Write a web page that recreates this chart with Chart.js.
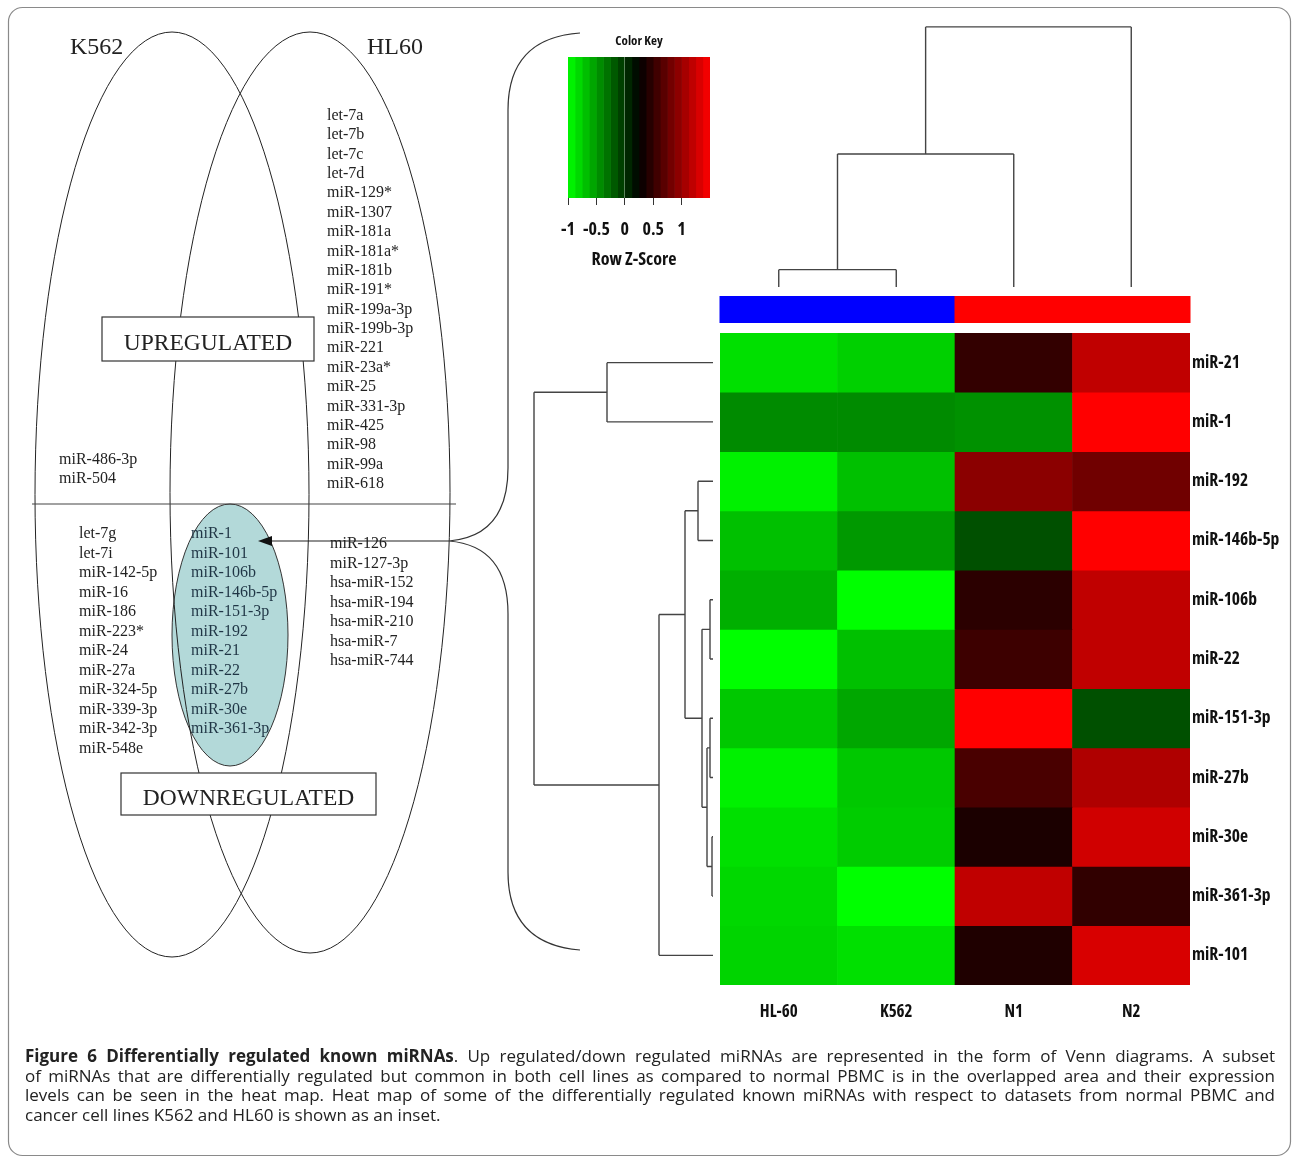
<!DOCTYPE html>
<html>
<head>
<meta charset="utf-8">
<script src="https://cdn.jsdelivr.net/npm/chart.js@4.4.1/dist/chart.umd.min.js"></script>
<style>
  body { margin: 0; background: #fff; }
  #wrap { position: relative; width: 1292px; height: 1160px; overflow: hidden; background: #fff; }
  #heat { position: absolute; left: 0; top: 0; }
  #key { position: absolute; left: 540px; top: 10px; }
  #venn { position: absolute; left: 0; top: 0; }
  .cap { position: absolute; left: 25px; width: 1250px; font: 17px 'Open Sans', sans-serif; color: #222;
         line-height: 19.7px; white-space: nowrap; text-align: justify; text-align-last: justify; }
  .cap.last { text-align: left; text-align-last: left; }
  .lab { position: absolute; font: bold 17px 'Open Sans', sans-serif; font-stretch: condensed; color: #111;
         line-height: 1; white-space: nowrap; }
</style>
</head>
<body>
<div id="wrap">
  <canvas id="heat" width="1292" height="1160"></canvas>
  <canvas id="key" width="200" height="300"></canvas>
  <svg id="venn" width="1292" height="1160" viewBox="0 0 1292 1160" xmlns="http://www.w3.org/2000/svg"></svg>
  <div class="cap" style="top:1046px"><b>Figure 6 Differentially regulated known miRNAs</b>. Up regulated/down regulated miRNAs are represented in the form of Venn diagrams. A subset</div>
  <div class="cap" style="top:1066px">of miRNAs that are differentially regulated but common in both cell lines as compared to normal PBMC is in the overlapped area and their expression</div>
  <div class="cap" style="top:1085px">levels can be seen in the heat map. Heat map of some of the differentially regulated known miRNAs with respect to datasets from normal PBMC and</div>
  <div class="cap last" style="top:1105px">cancer cell lines K562 and HL60 is shown as an inset.</div>
</div>
<script>
// heat map data (row z-scores)
const colNames = ['HL-60', 'K562', 'N1', 'N2'];
const colGroup = ['cancer', 'cancer', 'normal', 'normal'];
const rowNames = ['miR-21', 'miR-1', 'miR-192', 'miR-146b-5p', 'miR-106b', 'miR-22',
                  'miR-151-3p', 'miR-27b', 'miR-30e', 'miR-361-3p', 'miR-101'];
const zHL60 = [-0.85, -0.43, -0.93, -0.69, -0.61, -1.00, -0.73, -0.93, -0.85, -0.81, -0.79];
const zK562 = [-0.77, -0.43, -0.69, -0.50, -1.00, -0.69, -0.57, -0.73, -0.75, -1.00, -0.85];
const zN1   = [ 0.50, -0.46,  0.93, -0.14,  0.46,  0.55,  1.50,  0.61,  0.38,  1.19,  0.40];
const zN2   = [ 1.19,  1.50,  0.80,  1.50,  1.19,  1.19, -0.14,  1.11,  1.27,  0.49,  1.31];

// dendrograms, hclust style: negative = leaf (1-based), positive = earlier merge
const rowMerges = [[-9, -10, 0.1], [-5, -6, 0.3], [-7, -8, 0.3], [3, 1, 0.6], [2, 4, 1.1],
                   [-3, -4, 1.5], [6, 5, 2.8], [7, -11, 5.4], [-1, -2, 10.6], [9, 8, 17.9]];
const colMerges = [[-1, -2, 0.6], [1, -3, 4.6], [2, -4, 9.0]];

// colour key
const keyBreaks = [-1, -0.875, -0.75, -0.625, -0.5, -0.375, -0.25, -0.125, 0, 0.125, 0.25,
                   0.375, 0.5, 0.625, 0.75, 0.875, 1, 1.125, 1.25, 1.375, 1.5];
const keyTicks = [-1, -0.5, 0, 0.5, 1];

// venn lists
const hl60Up = ['let-7a', 'let-7b', 'let-7c', 'let-7d', 'miR-129*', 'miR-1307', 'miR-181a', 'miR-181a*',
  'miR-181b', 'miR-191*', 'miR-199a-3p', 'miR-199b-3p', 'miR-221', 'miR-23a*', 'miR-25', 'miR-331-3p',
  'miR-425', 'miR-98', 'miR-99a', 'miR-618'];
const k562Up = ['miR-486-3p', 'miR-504'];
const k562Down = ['let-7g', 'let-7i', 'miR-142-5p', 'miR-16', 'miR-186', 'miR-223*', 'miR-24', 'miR-27a',
  'miR-324-5p', 'miR-339-3p', 'miR-342-3p', 'miR-548e'];
const sharedDown = ['miR-1', 'miR-101', 'miR-106b', 'miR-146b-5p', 'miR-151-3p', 'miR-192', 'miR-21',
  'miR-22', 'miR-27b', 'miR-30e', 'miR-361-3p'];
const hl60Down = ['miR-126', 'miR-127-3p', 'hsa-miR-152', 'hsa-miR-194', 'hsa-miR-210', 'hsa-miR-7', 'hsa-miR-744'];

const zCols = [zHL60, zK562, zN1, zN2];
const groupColor = { cancer: '#0000ff', normal: '#ff0000' };
const zMin = -1, zMax = 1.5, zMid = 0.25;
const wrap = document.getElementById('wrap');

function zColor(z) {
  if (z < zMid) {
    const g = Math.round(255 * Math.min(1, (zMid - z) / (zMid - zMin)));
    return `rgb(0,${g},0)`;
  }
  const r = Math.round(255 * Math.min(1, (z - zMid) / (zMax - zMid)));
  return `rgb(${r},0,0)`;
}

// label placed in the page at a pixel from a chart scale; anchor 'left' or 'center'
function label(text, x, y, anchor, size) {
  const d = document.createElement('div');
  d.className = 'lab';
  d.textContent = text;
  if (size) d.style.fontSize = size + 'px';
  d.style.left = x + 'px';
  d.style.top = y + 'px';
  d.style.transform = anchor === 'left' ? 'translateY(-50%)' : 'translate(-50%,-50%)';
  wrap.appendChild(d);
}

function treeNodes(merges, leafPos) {
  const nodes = [];
  const get = k => k < 0 ? { p: leafPos(-k - 1), h: 0 } : nodes[k - 1];
  merges.forEach(([a, b, h]) => {
    const A = get(a), B = get(b);
    nodes.push({ p: (A.p + B.p) / 2, h: h, A: A, B: B });
  });
  return nodes;
}

const dendroPlugin = {
  id: 'dendro',
  afterDatasetsDraw(chart) {
    const ctx = chart.ctx;
    const xs = chart.scales.x, ys = chart.scales.y;
    const area = chart.chartArea;
    const colW = xs.getPixelForValue(1) - xs.getPixelForValue(0);
    ctx.save();
    // side colour bar
    colGroup.forEach((g, j) => {
      ctx.fillStyle = groupColor[g];
      ctx.fillRect(xs.getPixelForValue(j) - colW / 2 - 0.5, area.top - 37, colW + 1, 27);
    });
    ctx.strokeStyle = '#444';
    ctx.lineWidth = 1.4;
    // row tree
    const leafX = area.left - 7, rowPx = 10;
    treeNodes(rowMerges, i => ys.getPixelForValue(i + 0.5)).forEach(n => {
      const x = leafX - n.h * rowPx;
      ctx.beginPath();
      [n.A, n.B].forEach(c => {
        ctx.moveTo(leafX - c.h * rowPx, c.p);
        ctx.lineTo(x, c.p);
      });
      ctx.moveTo(x, n.A.p);
      ctx.lineTo(x, n.B.p);
      ctx.stroke();
    });
    // column tree
    const leafY = area.top - 46, colPx = 28.9;
    treeNodes(colMerges, j => xs.getPixelForValue(j)).forEach(n => {
      const y = leafY - n.h * colPx;
      ctx.beginPath();
      [n.A, n.B].forEach(c => {
        ctx.moveTo(c.p, leafY - c.h * colPx);
        ctx.lineTo(c.p, y);
      });
      ctx.moveTo(n.A.p, y);
      ctx.lineTo(n.B.p, y);
      ctx.stroke();
    });
    ctx.restore();
  },
  afterRender(chart) {
    if (chart.$labelled) return;
    chart.$labelled = true;
    const xs = chart.scales.x, ys = chart.scales.y, area = chart.chartArea;
    rowNames.forEach((name, i) => label(name, area.right + 2, ys.getPixelForValue(i + 0.5) - 1, 'left', 17.5));
    colNames.forEach((name, j) => label(name, xs.getPixelForValue(j), area.bottom + 25, 'center'));
  }
};

new Chart(document.getElementById('heat'), {
  type: 'bar',
  data: {
    labels: colNames,
    datasets: rowNames.map((name, r) => ({
      label: name,
      data: colNames.map(() => [r, r + 1]),
      backgroundColor: zCols.map(col => zColor(col[r])),
      grouped: false,
      barPercentage: 1,
      categoryPercentage: 1,
      borderWidth: 0
    }))
  },
  options: {
    responsive: false,
    animation: false,
    layout: { padding: { left: 720, top: 333, right: 12, bottom: 135 } },
    plugins: { legend: { display: false }, tooltip: { enabled: false } },
    scales: {
      x: {
        grid: { display: false },
        border: { display: false },
        ticks: { display: false },
        afterFit: s => { s.height = 40; }
      },
      y: {
        position: 'right',
        reverse: true,
        min: 0,
        max: rowNames.length,
        grid: { display: false },
        border: { display: false },
        ticks: { display: false },
        afterFit: s => { s.width = 90; }
      }
    }
  },
  plugins: [dendroPlugin]
});

// colour key
const keyLeft = 540, keyTop = 10;
new Chart(document.getElementById('key'), {
  type: 'bar',
  data: {
    labels: ['key'],
    datasets: keyBreaks.slice(0, -1).map((b, i) => ({
      data: [[b, keyBreaks[i + 1]]],
      backgroundColor: zColor((b + keyBreaks[i + 1]) / 2),
      grouped: false,
      barPercentage: 1,
      categoryPercentage: 1,
      borderWidth: 0
    }))
  },
  options: {
    indexAxis: 'y',
    responsive: false,
    animation: false,
    layout: { padding: { left: 28, right: 30, top: 47, bottom: 40 } },
    plugins: { legend: { display: false }, tooltip: { enabled: false } },
    scales: {
      y: { display: false },
      x: {
        min: zMin,
        max: zMax,
        border: { display: false },
        grid: { drawOnChartArea: false, tickLength: 7, color: '#333' },
        afterBuildTicks: s => { s.ticks = keyTicks.map(v => ({ value: v })); },
        ticks: { display: false },
        afterFit: s => { s.height = 72; }
      }
    }
  },
  plugins: [{
    id: 'keyLabels',
    afterRender(chart) {
      if (chart.$labelled) return;
      chart.$labelled = true;
      const xs = chart.scales.x, area = chart.chartArea;
      const mid = keyLeft + (area.left + area.right) / 2;
      label('Color Key', mid, keyTop + 30, 'center', 13);
      keyTicks.forEach(v => label(String(v), keyLeft + xs.getPixelForValue(v), keyTop + area.bottom + 30, 'center', 18));
      label('Row Z-Score', mid - 5, keyTop + area.bottom + 60, 'center', 18);
    }
  }]
});

// venn diagram
const svg = document.getElementById('venn');
const NS = 'http://www.w3.org/2000/svg';
function el(tag, attrs, text) {
  const e = document.createElementNS(NS, tag);
  Object.keys(attrs).forEach(k => e.setAttribute(k, attrs[k]));
  if (text !== undefined) e.textContent = text;
  svg.appendChild(e);
  return e;
}
const serif = "'Liberation Serif', 'DejaVu Serif', serif";

el('rect', { x: 8.5, y: 7.5, width: 1282, height: 1148, rx: 14, fill: 'none', stroke: '#8a8a8a', 'stroke-width': 1.2 });
el('ellipse', { cx: 230, cy: 635, rx: 58, ry: 131, fill: '#b3d9d9', stroke: '#333', 'stroke-width': 1 });
el('ellipse', { cx: 172, cy: 494.5, rx: 137, ry: 462.5, fill: 'none', stroke: '#222', 'stroke-width': 1 });
el('ellipse', { cx: 310, cy: 492.5, rx: 140, ry: 460.5, fill: 'none', stroke: '#222', 'stroke-width': 1 });
el('line', { x1: 32, y1: 504, x2: 456, y2: 504, stroke: '#444', 'stroke-width': 1.2 });
el('path', { d: 'M580,33 Q508,38 508,110 L508,468 Q508,536 449,541 Q508,546 508,614 L508,872 Q508,944 580,950',
             fill: 'none', stroke: '#333', 'stroke-width': 1.2 });
el('line', { x1: 449, y1: 541, x2: 270, y2: 541, stroke: '#222', 'stroke-width': 1.2 });
el('polygon', { points: '258,541 272,536 272,546', fill: '#111' });

el('text', { x: 70, y: 54, 'font-family': serif, 'font-size': 24, fill: '#222' }, 'K562');
el('text', { x: 367, y: 54, 'font-family': serif, 'font-size': 24, fill: '#222' }, 'HL60');

el('rect', { x: 102, y: 317, width: 212, height: 44, fill: '#fff', stroke: '#333', 'stroke-width': 1.2 });
el('text', { x: 208, y: 350, 'text-anchor': 'middle', 'font-family': serif, 'font-size': 23.5, fill: '#222' }, 'UPREGULATED');
el('rect', { x: 121, y: 773, width: 255, height: 42, fill: '#fff', stroke: '#333', 'stroke-width': 1.2 });
el('text', { x: 248.5, y: 805, 'text-anchor': 'middle', 'font-family': serif, 'font-size': 23.5, fill: '#222' }, 'DOWNREGULATED');

function list(items, x, y0, dy, color) {
  items.forEach((t, i) => el('text', { x: x, y: y0 + i * dy, 'font-family': serif, 'font-size': 16, fill: color }, t));
}
list(hl60Up, 327, 120, 19.37, '#222');
list(k562Up, 59, 464, 19.4, '#222');
list(k562Down, 79, 538, 19.5, '#222');
list(sharedDown, 191, 538, 19.5, '#1f3545');
list(hl60Down, 330, 548, 19.5, '#222');
</script>
</body>
</html>
